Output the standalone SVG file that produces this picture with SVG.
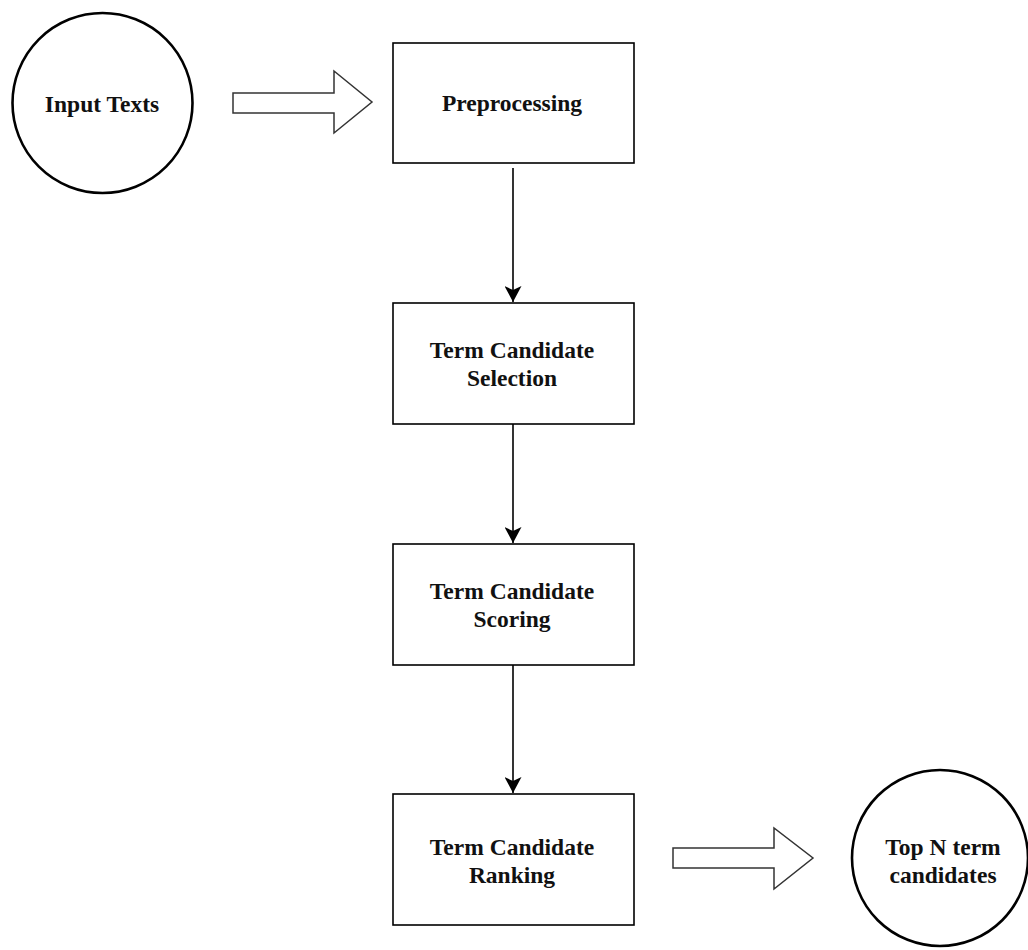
<svg xmlns="http://www.w3.org/2000/svg" width="1028" height="950" viewBox="0 0 1028 950">
  <style>
    .box { fill: #ffffff; stroke: #000000; stroke-width: 1.6; }
    .term { fill: #ffffff; stroke: #000000; stroke-width: 2.6; }
    .flow { fill: #ffffff; stroke: #333333; stroke-width: 1.5; stroke-linejoin: miter; }
    .edge { fill: none; stroke: #000000; stroke-width: 1.6; }
    .label { font-family: "Liberation Serif", "Times New Roman", serif; font-weight: bold; font-size: 23.5px; fill: #111111; text-anchor: middle; }
  </style>
  <defs>
    <marker id="arrow" viewBox="0 0 16 17" refX="16" refY="8.5" markerWidth="16" markerHeight="17" markerUnits="userSpaceOnUse" orient="auto">
      <path d="M0,0 L16,8.5 L0,17 L4,8.5 Z" fill="#000000"/>
    </marker>
  </defs>
  <rect width="1028" height="950" fill="#ffffff"/>

  <g id="input-texts">
    <circle class="term" cx="102.5" cy="103" r="90"/>
    <text class="label" x="102" y="112">Input Texts</text>
  </g>

  <g id="preprocessing">
    <rect class="box" x="393" y="43" width="241" height="120"/>
    <text class="label" x="512" y="111">Preprocessing</text>
  </g>

  <g id="selection">
    <rect class="box" x="393" y="303" width="241" height="121"/>
    <text class="label" x="512" y="358">Term Candidate</text>
    <text class="label" x="512" y="386">Selection</text>
  </g>

  <g id="scoring">
    <rect class="box" x="393" y="544" width="241" height="121"/>
    <text class="label" x="512" y="599">Term Candidate</text>
    <text class="label" x="512" y="627">Scoring</text>
  </g>

  <g id="ranking">
    <rect class="box" x="393" y="794" width="241" height="131"/>
    <text class="label" x="512" y="855">Term Candidate</text>
    <text class="label" x="512" y="883">Ranking</text>
  </g>

  <g id="top-n">
    <circle class="term" cx="940" cy="858" r="88"/>
    <text class="label" x="943" y="855">Top N term</text>
    <text class="label" x="943" y="883">candidates</text>
  </g>

  <g id="connectors">
    <!-- hollow block arrows for input and output -->
    <path class="flow" d="M233,93 L334,93 L334,71 L372,102 L334,133 L334,113 L233,113 Z"/>
    <path class="flow" d="M673,848 L774,848 L774,828 L813,858 L774,889 L774,868 L673,868 Z"/>
    <!-- process flow -->
    <line class="edge" x1="513" y1="168" x2="513" y2="302" marker-end="url(#arrow)"/>
    <line class="edge" x1="513" y1="424" x2="513" y2="543" marker-end="url(#arrow)"/>
    <line class="edge" x1="513" y1="665" x2="513" y2="793" marker-end="url(#arrow)"/>
  </g>
</svg>
